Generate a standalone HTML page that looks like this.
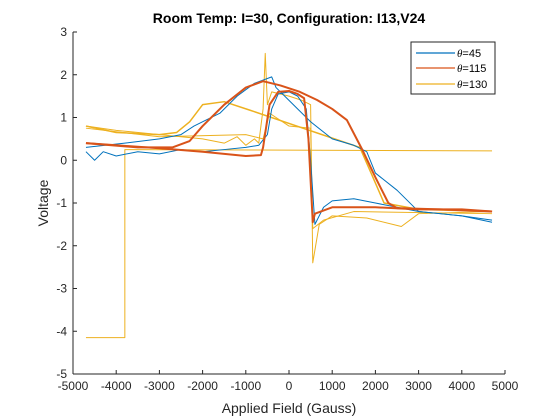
<!DOCTYPE html>
<html><head><meta charset="utf-8"><style>
body{margin:0;background:#fff}
svg{font-family:"Liberation Sans",sans-serif;display:block}
</style></head><body>
<svg id="chart" width="560" height="420">
<rect width="560" height="420" fill="#fff"/>
<g id="axes"></g>
<g id="series"></g>
<text x="289" y="23" text-anchor="middle" font-size="14" font-weight="bold" fill="#000">Room Temp: I=30, Configuration: I13,V24</text>
<text x="289" y="413" text-anchor="middle" font-size="14" fill="#262626">Applied Field (Gauss)</text>
<text transform="translate(48,203) rotate(-90)" text-anchor="middle" font-size="14" fill="#262626">Voltage</text>
<g>
<rect x="411" y="42" width="84" height="52" fill="#fff" stroke="#262626" stroke-width="1"/>
<line x1="416" y1="53" x2="455" y2="53" stroke="#0072BD" stroke-width="1.2"/>
<text x="457" y="57" font-size="11"><tspan font-style="italic" font-family="Liberation Serif">θ</tspan>=45</text>
<line x1="416" y1="68" x2="455" y2="68" stroke="#D95319" stroke-width="1.2"/>
<text x="457" y="72" font-size="11"><tspan font-style="italic" font-family="Liberation Serif">θ</tspan>=115</text>
<line x1="416" y1="84" x2="455" y2="84" stroke="#EDB120" stroke-width="1.2"/>
<text x="457" y="88" font-size="11"><tspan font-style="italic" font-family="Liberation Serif">θ</tspan>=130</text>
</g>
</svg>
<script>
const xTicks=[-5000,-4000,-3000,-2000,-1000,0,1000,2000,3000,4000,5000];
const yTicks=[-5,-4,-3,-2,-1,0,1,2,3];
const fieldA=[-4700,-4500,-4300,-4000,-3500,-3000,-2500,-2000,-1500,-1000,-700,-500,-400,-250,0,200,400,500,600,800,1000,1500,2000,2500,3000,3500,4000,4700];
const blueFwd=[0.2,0,0.2,0.1,0.2,0.15,0.25,0.2,0.25,0.3,0.35,0.6,1.2,1.55,1.6,1.5,1.2,0,-1.5,-1.1,-0.95,-0.9,-1.0,-1.1,-1.2,-1.25,-1.3,-1.45];
const fieldB=[4700,4000,3500,3000,2500,2000,1800,1500,1000,500,0,-300,-400,-800,-1200,-1600,-2200,-2500,-3000,-3800,-4700];
const blueBwd=[-1.4,-1.3,-1.25,-1.2,-0.7,-0.3,0.2,0.35,0.5,0.9,1.4,1.7,1.95,1.8,1.5,1.1,0.8,0.6,0.5,0.4,0.3];
const fieldC=[-4700,-4000,-3000,-2000,-1000,-650,-600,-450,-250,0,200,350,450,550,600,1000,2000,3000,4000,4700];
const orangeFwd=[0.4,0.35,0.28,0.2,0.1,0.12,0.3,1.3,1.6,1.62,1.55,1.45,0.5,-1.45,-1.25,-1.1,-1.1,-1.15,-1.15,-1.2];
const fieldD=[4700,3500,2500,2300,2000,1700,1340,1000,650,250,-200,-600,-1000,-1500,-2000,-2300,-2700,-3500,-4700];
const orangeBwd=[-1.2,-1.15,-1.12,-1.0,-0.4,0.24,0.94,1.2,1.41,1.6,1.75,1.85,1.7,1.3,0.8,0.45,0.3,0.3,0.4];
const fieldE=[-4700,-4000,-3000,-2000,-1500,-1200,-1000,-800,-700,-600,-550,-500,-400,-200,0,300,500,550,700,1000,1800,2600,3000,4700];
const yellowFwd=[0.8,0.7,0.6,0.5,0.4,0.55,0.35,0.5,0.4,1.2,2.5,1.3,1.6,1.55,1.5,1.4,1.3,-2.4,-1.5,-1.3,-1.35,-1.55,-1.25,-1.2];
const fieldF=[4700,3000,2200,1900,1640,500,-900,-1500,-2000,-2300,-2600,-3000,-4000,-4700];
const yellowBwd=[-1.2,-1.15,-1.0,-0.3,0.3,0.69,1.17,1.37,1.3,0.9,0.65,0.6,0.65,0.8];
const fieldH=[-4700,-3000,-1000,-600,-450,-300,0,500,550,800,1500,4700];
const yellowMid=[0.75,0.55,0.6,0.5,1.1,1.0,0.8,0.75,-1.6,-1.4,-1.2,-1.25];
const fieldG=[-4700,-3800,-3800,4700];
const yellowFlat=[-4.15,-4.15,0.25,0.22];
const X=v=>73+(v+5000)*0.0432, Y=v=>160.25-v*42.75;
const NS="http://www.w3.org/2000/svg";
const ax=document.getElementById('axes'), sg=document.getElementById('series');
function mk(t,a,p){const e=document.createElementNS(NS,t);for(const k in a)e.setAttribute(k,a[k]);p.appendChild(e);return e;}
let l=mk('line',{x1:73,y1:32,x2:73,y2:374,stroke:'#262626'},ax);


l=mk('line',{x1:73,y1:374,x2:505,y2:374,stroke:'#262626'},ax);


xTicks.forEach(t=>{mk('line',{x1:X(t),y1:374,x2:X(t),y2:370,stroke:'#262626'},ax);
const tx=mk('text',{x:X(t),y:390,'text-anchor':'middle','font-size':12,fill:'#262626'},ax);tx.textContent=t;

});
yTicks.forEach(t=>{mk('line',{x1:73,y1:Y(t),x2:77,y2:Y(t),stroke:'#262626'},ax);
const tx=mk('text',{x:67,y:Y(t)+4,'text-anchor':'end','font-size':12,fill:'#262626'},ax);tx.textContent=t;

});
function line(xs,ys,c,w,name){const p=mk('polyline',{points:xs.map((x,i)=>X(x)+','+Y(ys[i])).join(' '),fill:'none',stroke:c,'stroke-width':w,'stroke-linejoin':'round'},sg);

}
line(fieldG,yellowFlat,'#EDB120',1,'series-130-flat');
line(fieldE,yellowFwd,'#EDB120',1,'series-130-up');
line(fieldH,yellowMid,'#EDB120',1,'series-130-mid');
line(fieldF,yellowBwd,'#EDB120',1.5,'series-130-down');
line(fieldA,blueFwd,'#0072BD',1,'series-45-up');
line(fieldB,blueBwd,'#0072BD',1,'series-45-down');
line(fieldC,orangeFwd,'#D95319',2,'series-115-up');
line(fieldD,orangeBwd,'#D95319',2,'series-115-down');
</script>
</body></html>
